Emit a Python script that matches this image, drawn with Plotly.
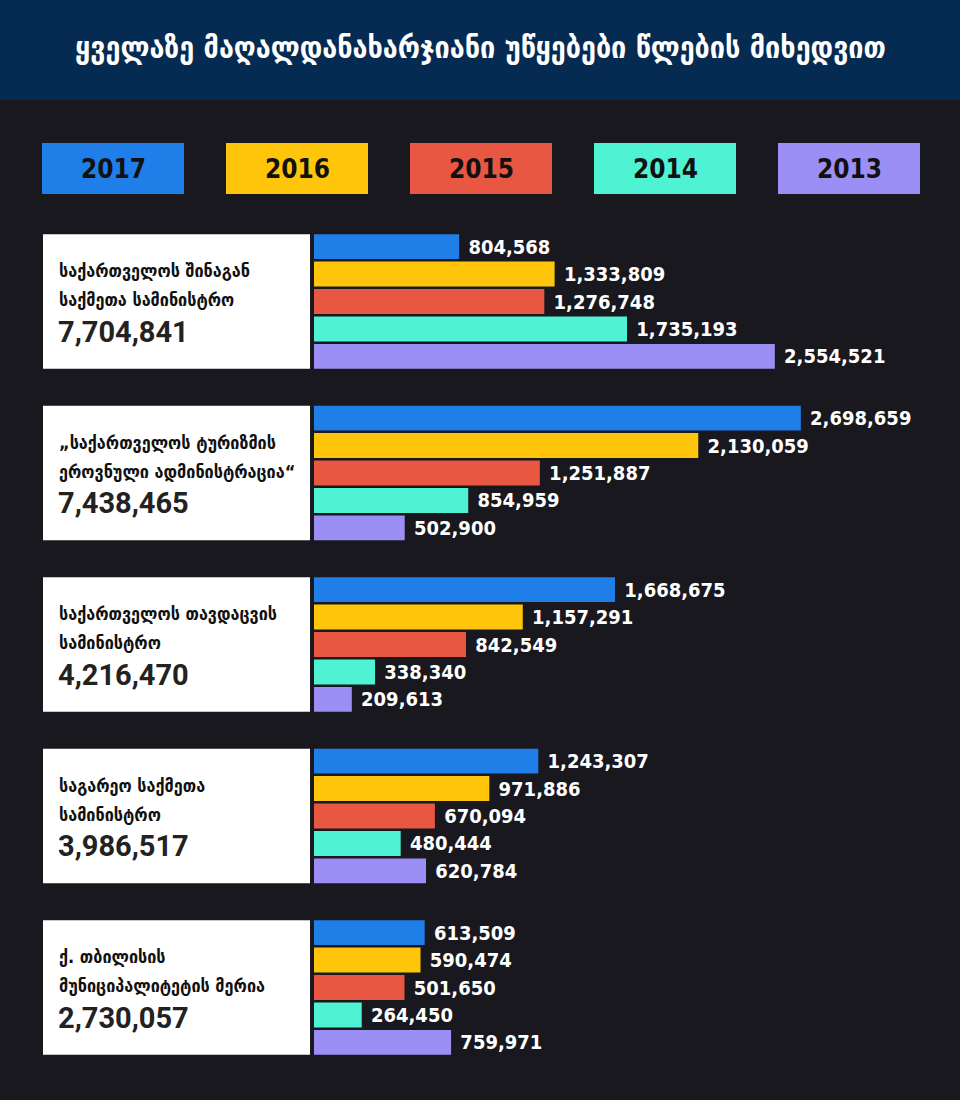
import plotly.graph_objects as go

# --- data -------------------------------------------------------------
years = ["2017", "2016", "2015", "2014", "2013"]
year_colors = ["#1f7ee8", "#fec50b", "#e85742", "#4ff2d2", "#9b8ff6"]

agency_line1 = ["საქართველოს შინაგან", "„საქართველოს ტურიზმის",
                "საქართველოს თავდაცვის", "საგარეო საქმეთა", "ქ. თბილისის"]
agency_line2 = ["საქმეთა სამინისტრო", "ეროვნული ადმინისტრაცია“",
                "სამინისტრო", "სამინისტრო", "მუნიციპალიტეტის მერია"]
agency_keys = ["mia", "tourism", "defence", "foreign", "tbilisi"]
totals = [7704841, 7438465, 4216470, 3986517, 2730057]

values_2017 = [804568, 2698659, 1668675, 1243307, 613509]
values_2016 = [1333809, 2130059, 1157291, 971886, 590474]
values_2015 = [1276748, 1251887, 842549, 670094, 501650]
values_2014 = [1735193, 854959, 338340, 480444, 264450]
values_2013 = [2554521, 502900, 209613, 620784, 759971]
series = [values_2017, values_2016, values_2015, values_2014, values_2013]

title = "ყველაზე მაღალდანახარჯიანი უწყებები წლების მიხედვით"

# --- layout constants -------------------------------------------------
W, H = 960, 1100
BG = "#18181e"
BAND = "#062b52"
NARROW = "DejaVu Sans Condensed, DejaVu Sans, sans-serif"
GEO = "DejaVu Sans Condensed, DejaVu Sans, sans-serif"

fig = go.Figure()

for yr, col, vals in zip(years, year_colors, series):
    fig.add_trace(go.Bar(
        x=vals, y=agency_keys, orientation="h", name=yr,
        marker=dict(color=col, line=dict(width=0)),
        texttemplate="\u00a0%{x:,}", textposition="outside",
        textangle=0, constraintext="none", cliponaxis=False,
        textfont=dict(family=NARROW, size=20, color="white", weight="bold"),
        hoverinfo="skip", showlegend=False,
    ))

shapes = [
    # title band
    dict(type="rect", xref="paper", yref="paper", x0=0, x1=1,
         y0=1 - 100 / H, y1=1, fillcolor=BAND, line_width=0, layer="below"),
]
annotations = [
    dict(text="<b>" + title + "</b>", xref="paper", yref="paper",
         x=0.5, y=1 - 47 / H, xanchor="center", yanchor="middle",
         showarrow=False, font=dict(family=GEO, size=30, color="white")),
]

# legend boxes
for i, (yr, col) in enumerate(zip(years, year_colors)):
    x0 = 42 + i * 184
    shapes.append(dict(type="rect", xref="paper", yref="paper",
                       x0=x0 / W, x1=(x0 + 142) / W,
                       y0=1 - 194 / H, y1=1 - 143 / H,
                       fillcolor=col, line_width=0))
    annotations.append(dict(text="<b>" + yr + "</b>", xref="paper", yref="paper",
                            x=(x0 + 71) / W, y=1 - 168.5 / H,
                            xanchor="center", yanchor="middle", showarrow=False,
                            font=dict(family=NARROW, size=26, color="#111111")))

# white label boxes with agency names and totals
for k, key in enumerate(agency_keys):
    shapes.append(dict(type="rect", xref="paper", yref="y",
                       x0=43 / W, x1=310 / W, y0=k - 0.3925, y1=k + 0.3925,
                       fillcolor="white", line_width=0, layer="below"))
    annotations.append(dict(text="<b>" + agency_line1[k] + "</b>",
                            xref="paper", yref="y", x=57 / W, y=key, yshift=31,
                            xanchor="left", yanchor="middle", showarrow=False,
                            font=dict(family=GEO, size=18, color="#111111")))
    annotations.append(dict(text="<b>" + agency_line2[k] + "</b>",
                            xref="paper", yref="y", x=57 / W, y=key, yshift=2,
                            xanchor="left", yanchor="middle", showarrow=False,
                            font=dict(family=GEO, size=18, color="#111111")))
    annotations.append(dict(text="<b>" + f"{totals[k]:,}" + "</b>",
                            xref="paper", yref="y", x=56 / W, y=key, yshift=-30,
                            xanchor="left", yanchor="middle", showarrow=False,
                            font=dict(family="Roboto, sans-serif", size=29,
                                      color="#222222")))

fig.update_layout(
    width=W, height=H,
    margin=dict(l=0, r=0, t=0, b=0),
    paper_bgcolor=BG, plot_bgcolor=BG,
    barmode="group", bargap=0.2, bargroupgap=0.09,
    shapes=shapes, annotations=annotations,
    xaxis=dict(domain=[314 / W, 1], range=[0, 3581000], visible=False,
               fixedrange=True),
    yaxis=dict(domain=[1 - 1073.25 / H, 1 - 215.75 / H],
               range=[4.5, -0.5], visible=False, fixedrange=True),
)

# drop the default page margin so the figure sits flush in the window
fig.write_html("out.html", config={"displayModeBar": False},
               post_script="document.body.style.margin = '0';")
